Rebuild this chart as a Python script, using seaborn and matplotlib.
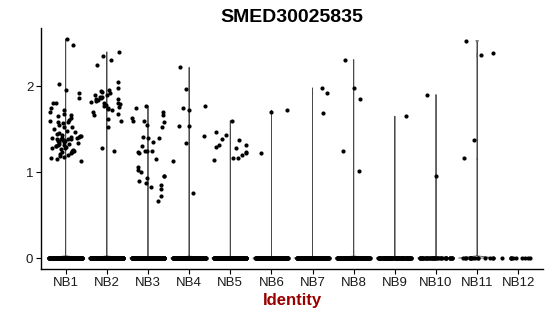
import numpy as np
import pandas as pd
import matplotlib
matplotlib.use("Agg")
import matplotlib.pyplot as plt
import seaborn as sns

title = "SMED30025835"
xlabel = "Identity"
groups = ["NB1", "NB2", "NB3", "NB4", "NB5", "NB6", "NB7", "NB8", "NB9", "NB10", "NB11", "NB12"]
yticks = [0, 1, 2]

# non-zero expression values per identity
nb1 = [2.55, 2.48, 2.02, 1.96, 1.92, 1.86, 1.80, 1.80, 1.75, 1.72, 1.70, 1.68, 1.66, 1.65,
       1.63, 1.61, 1.60, 1.58, 1.58, 1.57, 1.55, 1.53, 1.52, 1.50, 1.48, 1.47, 1.45, 1.44,
       1.43, 1.42, 1.42, 1.41, 1.41, 1.40, 1.40, 1.40, 1.39, 1.39, 1.38, 1.38, 1.37, 1.36,
       1.36, 1.35, 1.35, 1.34, 1.33, 1.33, 1.32, 1.31, 1.30, 1.30, 1.29, 1.28, 1.28, 1.27,
       1.26, 1.25, 1.25, 1.24, 1.23, 1.22, 1.21, 1.20, 1.19, 1.18, 1.17, 1.15, 1.13]
nb2 = [2.40, 2.35, 2.30, 2.25, 2.05, 1.98, 1.96, 1.95, 1.93, 1.92, 1.90, 1.90, 1.88, 1.87,
       1.86, 1.85, 1.85, 1.84, 1.83, 1.82, 1.81, 1.80, 1.79, 1.78, 1.77, 1.76, 1.75, 1.73,
       1.72, 1.70, 1.68, 1.66, 1.62, 1.60, 1.53, 1.28, 1.25]
nb3 = [1.77, 1.75, 1.70, 1.67, 1.63, 1.60, 1.60, 1.58, 1.55, 1.52, 1.41, 1.40, 1.40, 1.35,
       1.30, 1.25, 1.25, 1.25, 1.24, 1.22, 1.15, 1.06, 1.03, 1.00, 0.96, 0.95, 0.93, 0.90,
       0.87, 0.85, 0.83, 0.80, 0.72, 0.66]
nb4 = [2.22, 1.97, 1.77, 1.75, 1.72, 1.54, 1.54, 1.42, 1.34, 1.13, 0.76]
nb5 = [1.60, 1.47, 1.43, 1.39, 1.37, 1.32, 1.31, 1.29, 1.28, 1.24, 1.22, 1.20, 1.17, 1.17, 1.14]
nb6 = [1.72, 1.70, 1.22]
nb7 = [1.98, 1.92, 1.69]
nb8 = [2.31, 1.98, 1.85, 1.25, 1.01]
nb9 = [1.65]
nb10 = [1.90, 0.96]
nb11 = [2.53, 2.39, 2.36, 1.37, 1.16]
nb12 = []
nonzero = [nb1, nb2, nb3, nb4, nb5, nb6, nb7, nb8, nb9, nb10, nb11, nb12]
# number of cells with zero expression per identity (estimated)
zero_counts = [400, 350, 300, 300, 280, 200, 180, 150, 100, 40, 15, 10]

rows = []
for g, vals, nz in zip(groups, nonzero, zero_counts):
    for v in list(vals) + [0.0] * nz:
        rows.append((g, v))
df = pd.DataFrame(rows, columns=["ident", "expr"])

sns.set_theme(style="ticks")
plt.rcParams["font.family"] = ["Liberation Sans", "DejaVu Sans"]

fig = plt.figure(figsize=(5.5, 3.16), dpi=100)
ax = fig.add_axes([41 / 550, 47 / 316, 502 / 550, 241 / 316])

var_ok = df.groupby("ident")["expr"].transform("std") > 0
sns.violinplot(data=df[var_ok], x="ident", y="expr", order=groups, ax=ax,
               inner=None, cut=0, density_norm="width", bw_method=0.008,
               fill=False, color="#4a4a4a", linewidth=0.6, width=0.9)

np.random.seed(3)
sns.stripplot(data=df, x="ident", y="expr", order=groups, ax=ax,
              jitter=0.4, color="black", size=3.0, linewidth=0, zorder=3)

ymax = df["expr"].max()
ax.set_ylim(-0.05 * ymax, ymax * 1.05)
ax.set_xlim(-0.6, len(groups) - 0.4)
ax.set_yticks(yticks)
ax.set_yticklabels([str(t) for t in yticks])
ax.set_ylabel("")
ax.set_xlabel(xlabel, fontsize=12, fontweight="bold", color="#990000", labelpad=3)
ax.set_title(title, fontsize=14, fontweight="bold", pad=4.5, color="black")
ax.tick_params(axis="both", labelsize=9.5, length=3.5, width=0.8, colors="black",
               labelcolor="#1a1a1a", pad=2)
for s in ["top", "right"]:
    ax.spines[s].set_visible(False)
for s in ["left", "bottom"]:
    ax.spines[s].set_linewidth(1.0)
    ax.spines[s].set_color("black")

fig.savefig("out.png", dpi=100)
